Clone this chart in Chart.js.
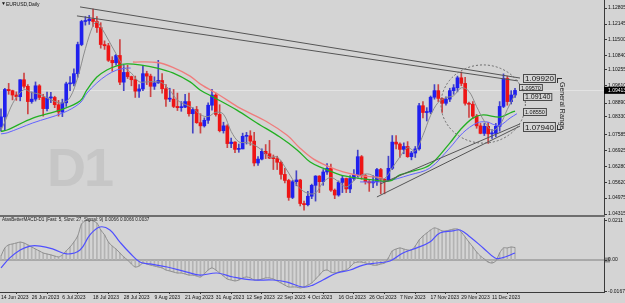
<!DOCTYPE html>
<html>
<head>
<meta charset="utf-8">
<script src="https://cdn.jsdelivr.net/npm/chart.js@4.4.1/dist/chart.umd.min.js"></script>
<style>
  html, body { margin: 0; padding: 0; background: #d4d4d4; }
  #wrap { position: relative; width: 625px; height: 303px; overflow: hidden; font-family: "Liberation Sans", Arial, sans-serif; }
  canvas { position: absolute; left: 0; }
  #main { top: 0; z-index: 1; }
  #macd { top: 217px; z-index: 1; }
  .txt { position: absolute; z-index: 3; color: #111; white-space: nowrap; }
  #mark { left: 47px; top: 136px; font-size: 54px; font-weight: bold; color: #c6c6c6; z-index: 0; letter-spacing: -2px; }
  #sep { position: absolute; left: 0; top: 215px; width: 605px; height: 2px; background: #6e6e6e; z-index: 2; }
  #range { left: 559px; top: 82px; font-size: 7px; writing-mode: vertical-rl; color: #222; }
  .brk { position: absolute; z-index: 3; border-color: #333; border-style: solid; border-width: 0; }
</style>
</head>
<body>
<div id="wrap">
  <div class="txt" id="mark">D1</div>
  <canvas id="main" width="625" height="219"></canvas>
  <div id="sep"></div>
  <canvas id="macd" width="625" height="86"></canvas>
  <div class="txt" style="left:1px;top:0px;font-size:5px;">▼</div>
  <div class="txt" style="left:6px;top:1px;font-size:5px;">EURUSD,Daily</div>
  <div class="txt" style="left:2px;top:217px;font-size:4.6px;color:#222;">AtasBetterMACD-D1 (Fast: 5, Slow: 27, Signal: 9) 0.0066 0.0066 0.0037</div>
  <div class="txt" id="range">General Range</div>
  <div class="brk" style="left:557px;top:78px;width:4px;height:4px;border-left-width:1px;border-top-width:1px;"></div>
  <div class="brk" style="left:557px;top:125px;width:4px;height:4px;border-left-width:1px;border-bottom-width:1px;"></div>
</div>
<script>
// EURUSD daily, 14 Jun 2023 .. 19 Dec 2023 (bar index 0..134)
const opens = [1.0792,1.0832,1.0945,1.0940,1.0922,1.0915,1.0985,1.0958,1.0895,1.0905,1.0960,1.0912,1.0866,1.0910,1.0912,1.0882,1.0852,1.0890,1.0968,1.0970,
  1.1010,1.1130,1.1225,1.1228,1.1235,1.1225,1.1200,1.1130,1.1125,1.1065,1.1055,1.1085,1.0975,1.1015,1.0998,1.0985,1.0938,1.0947,1.1010,1.1000,
  1.0958,1.0972,1.0982,1.0948,1.0905,1.0905,1.0875,1.0870,1.0872,1.0895,1.0845,1.0862,1.0808,1.0795,1.0818,1.0880,1.0922,1.0842,1.0775,1.0795,
  1.0722,1.0728,1.0698,1.0700,1.0752,1.0754,1.0732,1.0642,1.0658,1.0690,1.0680,1.0662,1.0660,1.0645,1.0595,1.0570,1.0500,1.0565,1.0572,1.0475,
  1.0470,1.0505,1.0550,1.0588,1.0565,1.0605,1.0620,1.0530,1.0510,1.0562,1.0578,1.0535,1.0578,1.0593,1.0668,1.0590,1.0565,1.0560,1.0565,1.0615,
  1.0575,1.0570,1.0620,1.0728,1.0720,1.0698,1.0710,1.0668,1.0683,1.0700,1.0878,1.0850,1.0852,1.0913,1.0940,1.0908,1.0888,1.0905,1.0940,1.0952,
  1.0993,1.0970,1.0888,1.0884,1.0835,1.0795,1.0764,1.0793,1.0762,1.0764,1.0793,1.0875,1.0990,1.0895,1.0922];
const highs = [1.0865,1.0950,1.0970,1.0942,1.0935,1.0985,1.1012,1.0965,1.0935,1.0976,1.0965,1.0925,1.0934,1.0933,1.0917,1.0900,1.0905,1.0975,1.0998,1.1030,
  1.1140,1.1230,1.1245,1.1250,1.1276,1.1245,1.1220,1.1145,1.1135,1.1080,1.1090,1.1150,1.1045,1.1045,1.1000,1.1000,1.0965,1.1042,1.1020,1.1008,
  1.0997,1.1065,1.1010,1.0965,1.0950,1.0945,1.0930,1.0895,1.0925,1.0930,1.0870,1.0875,1.0845,1.0828,1.0890,1.0945,1.0930,1.0882,1.0810,1.0800,
  1.0745,1.0730,1.0720,1.0765,1.0768,1.0775,1.0768,1.0668,1.0700,1.0718,1.0735,1.0675,1.0670,1.0650,1.0620,1.0575,1.0570,1.0610,1.0575,1.0485,
  1.0525,1.0555,1.0590,1.0590,1.0615,1.0640,1.0638,1.0535,1.0568,1.0590,1.0580,1.0590,1.0615,1.0695,1.0673,1.0595,1.0570,1.0590,1.0620,1.0620,
  1.0578,1.0670,1.0755,1.0755,1.0725,1.0725,1.0730,1.0690,1.0710,1.0888,1.0895,1.0870,1.0918,1.0965,1.0965,1.0910,1.0915,1.0950,1.0965,1.1000,
  1.1017,1.0995,1.0893,1.0895,1.0842,1.0805,1.0805,1.0808,1.0780,1.0805,1.0895,1.1009,1.1000,1.0940,1.0950];
const lows = [1.0773,1.0775,1.0925,1.0902,1.0900,1.0898,1.0950,1.0844,1.0888,1.0897,1.0903,1.0835,1.0856,1.0890,1.0870,1.0835,1.0833,1.0875,1.0940,1.0960,
  1.0995,1.1125,1.1210,1.1213,1.1205,1.1180,1.1115,1.1110,1.1060,1.1020,1.1045,1.0965,1.0940,1.0990,1.0960,1.0912,1.0912,1.0940,1.0965,1.0915,
  1.0945,1.0970,1.0930,1.0875,1.0895,1.0870,1.0858,1.0855,1.0870,1.0835,1.0765,1.0805,1.0765,1.0790,1.0805,1.0860,1.0835,1.0770,1.0765,1.0705,
  1.0705,1.0685,1.0686,1.0700,1.0720,1.0715,1.0630,1.0632,1.0655,1.0660,1.0660,1.0615,1.0615,1.0575,1.0560,1.0488,1.0495,1.0548,1.0465,1.0448,
  1.0465,1.0495,1.0485,1.0520,1.0550,1.0595,1.0525,1.0495,1.0505,1.0520,1.0520,1.0520,1.0570,1.0580,1.0575,1.0555,1.0525,1.0540,1.0550,1.0515,
  1.0515,1.0568,1.0615,1.0700,1.0665,1.0680,1.0665,1.0655,1.0665,1.0695,1.0828,1.0815,1.0845,1.0905,1.0895,1.0850,1.0880,1.0895,1.0925,1.0935,
  1.0960,1.0880,1.0830,1.0825,1.0785,1.0762,1.0755,1.0723,1.0743,1.0750,1.0773,1.0870,1.0880,1.0885,1.0912];
const closes = [1.0832,1.0945,1.0940,1.0922,1.0915,1.0985,1.0958,1.0895,1.0905,1.0960,1.0912,1.0866,1.0910,1.0912,1.0882,1.0852,1.0890,1.0968,1.0970,1.1010,
  1.1130,1.1225,1.1228,1.1235,1.1225,1.1200,1.1130,1.1125,1.1065,1.1055,1.1085,1.0975,1.1015,1.0998,1.0985,1.0938,1.0947,1.1010,1.1000,1.0958,
  1.0972,1.0982,1.0948,1.0905,1.0905,1.0875,1.0870,1.0872,1.0895,1.0845,1.0862,1.0808,1.0795,1.0818,1.0880,1.0922,1.0842,1.0775,1.0795,1.0722,
  1.0728,1.0698,1.0700,1.0752,1.0754,1.0732,1.0642,1.0658,1.0690,1.0680,1.0662,1.0660,1.0645,1.0595,1.0570,1.0500,1.0565,1.0572,1.0475,1.0470,
  1.0505,1.0550,1.0588,1.0565,1.0605,1.0620,1.0530,1.0510,1.0562,1.0578,1.0535,1.0578,1.0593,1.0668,1.0590,1.0565,1.0560,1.0565,1.0615,1.0575,
  1.0570,1.0620,1.0728,1.0720,1.0698,1.0710,1.0668,1.0683,1.0700,1.0878,1.0850,1.0852,1.0913,1.0940,1.0908,1.0888,1.0905,1.0940,1.0952,1.0993,
  1.0970,1.0888,1.0884,1.0835,1.0795,1.0764,1.0793,1.0762,1.0764,1.0793,1.0875,1.0990,1.0895,1.0922,1.0941];

// moving averages: [bar index, price]
const fastMA = [[0,1.0778],[1,1.0811],[2,1.0851],[3,1.0886],[4,1.0911],[6,1.0944],[8,1.0932],[10,1.0926],[12,1.0910],[14,1.0896],[16,1.0889],[18,1.0912],
  [20,1.0994],[22,1.1113],[24,1.1209],[25,1.1223],[26,1.1204],[28,1.1149],[30,1.1092],[32,1.1039],[34,1.1012],[36,1.0977],[38,1.0976],[40,1.0977],
  [42,1.0972],[44,1.0942],[46,1.0901],[48,1.0883],[50,1.0869],[52,1.0841],[54,1.0833],[56,1.0851],[58,1.0843],[60,1.0772],[62,1.0729],[64,1.0726],
  [66,1.0716],[68,1.0695],[70,1.0666],[72,1.0667],[74,1.0626],[76,1.0575],[78,1.0536],[80,1.0517],[82,1.0518],[84,1.0563],[86,1.0582],[88,1.0565],
  [90,1.0543],[92,1.0569],[94,1.0593],[96,1.0596],[98,1.0580],[100,1.0578],[102,1.0622],[104,1.0667],[106,1.0705],[108,1.0692],[110,1.0756],
  [112,1.0838],[114,1.0892],[116,1.0911],[118,1.0919],[120,1.0952],[122,1.0937],[124,1.0874],[126,1.0814],[128,1.0776],[130,1.0797],[132,1.0863],[134,1.0925]];
const midMA = [[0,1.0772],[1.6,1.0778],[8.3,1.0827],[15.4,1.0860],[20.6,1.0897],[22.4,1.0943],[25,1.0996],[27.6,1.1025],[30.2,1.1042],[32.8,1.1050],
  [36.2,1.1046],[40.7,1.1033],[44.8,1.1013],[49.3,1.0976],[51.9,1.0943],[55.3,1.0914],[61.5,1.0860],[66.7,1.0807],[72.7,1.0749],[77.2,1.0696],
  [80.6,1.0646],[83.9,1.0621],[88.4,1.0593],[92.8,1.0580],[97,1.0572],[101.4,1.0568],[104,1.0593],[106.6,1.0605],[111.8,1.0634],[117,1.0724],
  [119.7,1.0778],[123,1.0827],[125.7,1.0840],[130.1,1.0831],[132.7,1.0848],[134,1.0856]];
const upperMA = [[34.4,1.1058],[40.7,1.1056],[44.8,1.1036],[49.3,1.1000],[52,1.0967],[57.1,1.0920],[62.3,1.0868],[69.3,1.0812],[74.6,1.0756],
  [77.9,1.0704],[81.3,1.0660],[85,1.0630],[89.2,1.0605],[93.6,1.0590],[98,1.0584],[99.3,1.0581]];
const lowerMA1 = [[0,1.0762],[1.6,1.0766],[8.3,1.0807],[16.1,1.0848],[20.6,1.0889],[22.4,1.0930],[25,1.0972],[27.6,1.1004],[30.2,1.1025],[32.8,1.1033],[33.8,1.1033]];
const lowerMA2 = [[93.6,1.0564],[100,1.0566],[106.6,1.0593],[111.8,1.0621],[117,1.0704],[120.4,1.0766],[124.1,1.0807],[126.7,1.0811],[128.5,1.0800],
  [130.1,1.0797],[132.7,1.0827],[134.5,1.0845]];

// trend lines: [bar index, price]
const resistA = [[20.6,1.1285],[135.3,1.0992]];
const resistB = [[19.8,1.1248],[134.8,1.0980]];
const supportA = [[98.8,1.0555],[135.3,1.0803]];
const supportB = [[98,1.0502],[135.3,1.0794]];
const rangeCircle = [125.7, 1.0885, 11.0, 0.0161]; // centre index, centre price, radius in bars, radius in price

const levelPrices = [1.09920, 1.09570, 1.09140, 1.08550, 1.07940];
const levelLabels = ['1.09920', '1.09570', '1.09140', '1.08550', '1.07940'];
const bidPrice = 1.09413;

const priceTicks = [1.12805,1.12145,1.11500,1.10840,1.10255,1.09610,1.08890,1.08330,1.07585,1.06925,1.06280,1.05620,1.04975,1.04315];
const dateTickIdx = [0,8,16,24,32,40,48,56,64,72,80,88,96,104,112,120,128];
const dateLabels = ['14 Jun 2023','26 Jun 2023','6 Jul 2023','18 Jul 2023','28 Jul 2023','9 Aug 2023','21 Aug 2023','31 Aug 2023',
  '12 Sep 2023','22 Sep 2023','4 Oct 2023','16 Oct 2023','26 Oct 2023','7 Nov 2023','17 Nov 2023','29 Nov 2023','11 Dec 2023'];

// MACD (fast 5, slow 27, signal 9)
const macdMain = [0.0021,0.0064,0.0080,0.0085,0.0090,0.0095,0.0090,0.0080,0.0069,0.0058,0.0048,0.0037,0.0032,0.0027,0.0021,0.0016,0.0027,0.0048,0.0069,0.0095,
  0.0127,0.0191,0.0207,0.0212,0.0207,0.0196,0.0159,0.0133,0.0095,0.0074,0.0058,0.0037,0.0016,0.0000,-0.0021,-0.0037,-0.0032,-0.0016,-0.0021,-0.0027,
  -0.0032,-0.0037,-0.0042,-0.0053,-0.0058,-0.0064,-0.0069,-0.0069,-0.0074,-0.0080,-0.0080,-0.0085,-0.0090,-0.0074,-0.0053,-0.0042,-0.0053,-0.0069,-0.0085,-0.0101,
  -0.0106,-0.0111,-0.0106,-0.0095,-0.0090,-0.0095,-0.0106,-0.0106,-0.0101,-0.0095,-0.0095,-0.0101,-0.0111,-0.0122,-0.0133,-0.0143,-0.0143,-0.0143,-0.0148,-0.0143,
  -0.0133,-0.0122,-0.0101,-0.0080,-0.0058,-0.0053,-0.0064,-0.0069,-0.0064,-0.0058,-0.0053,-0.0037,-0.0016,-0.0011,-0.0011,-0.0016,-0.0021,-0.0027,-0.0027,-0.0021,
  -0.0016,0.0011,0.0048,0.0058,0.0064,0.0058,0.0053,0.0053,0.0074,0.0106,0.0127,0.0143,0.0159,0.0170,0.0164,0.0154,0.0154,0.0159,0.0164,0.0164,
  0.0148,0.0122,0.0095,0.0069,0.0042,0.0021,0.0005,-0.0011,-0.0016,-0.0005,0.0037,0.0064,0.0064,0.0069,0.0066];
const macdSignal = [[0,-0.0042],[2.3,0.0011],[5,0.0053],[7.6,0.0074],[10.2,0.0074],[13.6,0.0058],[17.2,0.0032],[20.6,0.0053],[23.2,0.0133],[25.8,0.0175],
  [28.4,0.0159],[31,0.0095],[33.6,0.0037],[36.2,-0.0011],[38.8,-0.0021],[43.3,-0.0037],[48.5,-0.0064],[51.9,-0.0080],[56.3,-0.0069],[60.5,-0.0090],
  [65.7,-0.0106],[70.9,-0.0106],[74.6,-0.0117],[78.7,-0.0143],[81.3,-0.0133],[83.9,-0.0106],[87.6,-0.0069],[91,-0.0053],[94.4,-0.0027],[98,-0.0016],
  [101.4,-0.0005],[104.8,0.0037],[108.4,0.0064],[111.8,0.0095],[114.4,0.0143],[117.8,0.0154],[119.7,0.0159],[122.3,0.0122],[125.7,0.0064],[128.8,0.0011],
  [130.6,0.0011],[134,0.0037]];
const macdTicks = [0.0211, 0, -0.0167];
const macdTickLabels = ['0.0211', '0.00', '-0.0167'];

// ---- layout constants
const X_MIN = -0.26, X_MAX = 157.2;
const FONT = '"Liberation Sans", Arial, sans-serif';
const BG = '#d4d4d4';
const AXIS = '#3a3a3a';

const pts = arr => arr.map(([x, y]) => ({ x, y }));
const up = [], down = [], upWick = [], downWick = [];
closes.forEach((c, i) => {
  const o = opens[i];
  if (c >= o) {
    up.push({ x: i, y: [o, c] });
    upWick.push({ x: i, y: [lows[i], highs[i]] });
  } else {
    down.push({ x: i, y: [c, o] });
    downWick.push({ x: i, y: [lows[i], highs[i]] });
  }
});

function bars(data, color, thick, order) {
  return { type: 'bar', data, backgroundColor: color, barThickness: thick, grouped: false, minBarLength: 1, order };
}
function line(data, color, width, tension, order) {
  return { type: 'line', data: pts(data), borderColor: color, borderWidth: width, pointRadius: 0, tension, order };
}

const levelStyle = [
  { at: 136.1, size: 8, h: 8 },
  { at: 135.0, size: 5.5, h: 6 },
  { at: 136.1, size: 7, h: 7 },
  { at: 136.1, size: 5.5, h: 7 },
  { at: 136.1, size: 8, h: 9 }
];

const mainOverlay = {
  id: 'mainOverlay',
  beforeDatasetsDraw(chart) {
    const { ctx, chartArea, scales: { y } } = chart;
    const py = Math.round(y.getPixelForValue(bidPrice)) + 0.5;
    ctx.save();
    ctx.strokeStyle = '#e3e3e3';
    ctx.lineWidth = 1;
    ctx.beginPath();
    ctx.moveTo(chartArea.left, py);
    ctx.lineTo(chartArea.right, py);
    ctx.stroke();
    ctx.restore();
  },
  afterDatasetsDraw(chart) {
    const { ctx, scales: { x, y } } = chart;
    const cx = x.getPixelForValue(rangeCircle[0]);
    const cy = y.getPixelForValue(rangeCircle[1]);
    const rx = Math.abs(x.getPixelForValue(rangeCircle[0] + rangeCircle[2]) - cx);
    const ry = Math.abs(y.getPixelForValue(rangeCircle[1] + rangeCircle[3]) - cy);
    ctx.save();
    ctx.setLineDash([2, 2]);
    ctx.strokeStyle = '#6a6a6a';
    ctx.lineWidth = 1;
    ctx.beginPath();
    ctx.ellipse(cx, cy, rx, ry, 0, 0, Math.PI * 2);
    ctx.stroke();
    ctx.setLineDash([]);

    levelPrices.forEach((v, k) => {
      const st = levelStyle[k];
      ctx.font = st.size + 'px ' + FONT;
      const tw = ctx.measureText(levelLabels[k]).width;
      const left = Math.round(x.getPixelForValue(st.at)) + 0.5;
      const top = Math.round(y.getPixelForValue(v) - st.h / 2) + 0.5;
      ctx.fillStyle = BG;
      ctx.fillRect(left, top, tw + 3, st.h);
      ctx.strokeStyle = '#4a4a4a';
      ctx.strokeRect(left, top, tw + 3, st.h);
      ctx.fillStyle = '#151515';
      ctx.textBaseline = 'middle';
      ctx.fillText(levelLabels[k], left + 1.5, top + st.h / 2 + 0.5);
    });
    ctx.restore();
  },
  afterDraw(chart) {
    const { ctx, chartArea, scales: { y } } = chart;
    const py = y.getPixelForValue(bidPrice);
    ctx.save();
    ctx.fillStyle = '#000';
    ctx.fillRect(chartArea.right, py - 3.5, 21, 7);
    ctx.fillStyle = '#fff';
    ctx.font = '5px ' + FONT;
    ctx.textBaseline = 'middle';
    ctx.fillText(bidPrice.toFixed(5), chartArea.right + 4, py);
    ctx.restore();
  }
};

new Chart(document.getElementById('main'), {
  type: 'bar',
  data: {
    datasets: [
      line(fastMA, '#8c8c8c', 1, 0.35, 1),
      line(midMA, '#22b022', 1.3, 0.35, 1),
      line(upperMA, '#f07c7c', 1.3, 0.35, 1),
      line(lowerMA1, '#6262ff', 1, 0.35, 1),
      line(lowerMA2, '#6262ff', 1, 0.35, 1),
      line(resistA, '#555555', 1, 0, 0),
      line(resistB, '#555555', 1, 0, 0),
      line(supportA, '#555555', 1, 0, 0),
      line(supportB, '#555555', 1, 0, 0),
      bars(up, '#2020ee', 3, 3),
      bars(down, '#ee1515', 3, 3),
      bars(upWick, '#4444c4', 1, 4),
      bars(downWick, '#cc4444', 1, 4)
    ]
  },
  options: {
    responsive: false,
    animation: false,
    layout: { padding: { top: 0, bottom: 4, left: 0, right: 0 } },
    plugins: { legend: { display: false }, tooltip: { enabled: false } },
    scales: {
      x: { type: 'linear', min: X_MIN, max: X_MAX, display: false, offset: false, bounds: 'data' },
      y: {
        type: 'linear', position: 'right', min: 1.04277, max: 1.13135, bounds: 'data',
        afterBuildTicks(s) { s.ticks = priceTicks.map(v => ({ value: v })); },
        afterFit(s) { s.width = 21; s.paddingTop = 0; s.paddingBottom = 0; },
        ticks: { autoSkip: false, padding: 1, color: '#111', font: { size: 5, family: FONT }, callback: v => v.toFixed(5) },
        grid: { drawOnChartArea: false, tickLength: 3, color: AXIS },
        border: { display: true, color: AXIS }
      }
    }
  },
  plugins: [mainOverlay]
});

const macdOverlay = {
  id: 'macdOverlay',
  beforeDraw(chart) {
    const { ctx, chartArea, scales: { y } } = chart;
    const py = y.getPixelForValue(0);
    ctx.save();
    ctx.fillStyle = '#8e8e8e';
    ctx.fillRect(chartArea.right + 1, py - 2.5, 5, 5);
    ctx.restore();
  },
  beforeDatasetsDraw(chart) {
    const { ctx, chartArea, scales: { y } } = chart;
    const py = y.getPixelForValue(0);
    ctx.save();
    ctx.strokeStyle = '#a9a9a9';
    ctx.lineWidth = 2;
    ctx.beginPath();
    ctx.moveTo(chartArea.left, py);
    ctx.lineTo(chartArea.right, py);
    ctx.stroke();
    ctx.restore();
  }
};

new Chart(document.getElementById('macd'), {
  type: 'bar',
  data: {
    datasets: [
      line(macdSignal, '#4f4fff', 1.2, 0.4, 0),
      { type: 'line', data: macdMain.map((v, i) => ({ x: i, y: v })), borderColor: '#8e8e8e', borderWidth: 1, pointRadius: 0, tension: 0.3, order: 1 },
      { type: 'bar', data: macdMain.map((v, i) => ({ x: i, y: v })), backgroundColor: '#b3b3b3', barThickness: 1, grouped: false, order: 2 }
    ]
  },
  options: {
    responsive: false,
    animation: false,
    layout: { padding: { top: 1, bottom: 0, left: 0, right: 0 } },
    plugins: { legend: { display: false }, tooltip: { enabled: false } },
    scales: {
      x: {
        type: 'linear', min: X_MIN, max: X_MAX, offset: false, bounds: 'data',
        afterBuildTicks(s) { s.ticks = dateTickIdx.map(v => ({ value: v })); },
        afterFit(s) { s.height = 11; s.paddingLeft = 0; s.paddingRight = 0; },
        ticks: {
          autoSkip: false, maxRotation: 0, minRotation: 0, align: 'start', padding: 1,
          color: '#111', font: { size: 5, family: FONT },
          callback: v => dateLabels[dateTickIdx.indexOf(v)]
        },
        grid: { drawOnChartArea: false, tickLength: 2, color: AXIS },
        border: { display: true, color: AXIS }
      },
      y: {
        type: 'linear', position: 'right', min: -0.01696, max: 0.02226, bounds: 'data',
        afterBuildTicks(s) { s.ticks = macdTicks.map(v => ({ value: v })); },
        afterFit(s) { s.width = 21; s.paddingTop = 0; s.paddingBottom = 0; },
        ticks: { autoSkip: false, padding: 1, color: '#111', font: { size: 5, family: FONT }, callback: (v, i) => macdTickLabels[i] },
        grid: { drawOnChartArea: false, tickLength: 3, color: AXIS },
        border: { display: true, color: AXIS }
      }
    }
  },
  plugins: [macdOverlay]
});
</script>
</body>
</html>
